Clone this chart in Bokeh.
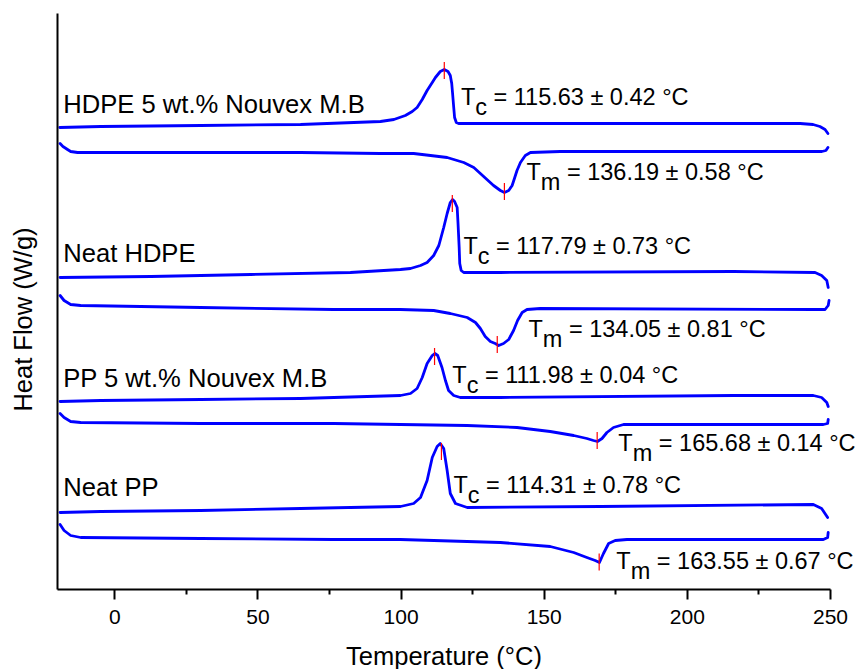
import math
from bokeh.plotting import figure
from bokeh.models import Label, Range1d, FixedTicker
from bokeh.embed import file_html
from bokeh.resources import INLINE

# ---------------- data (temperature in °C, heat flow in offset-stacked a.u.) ----------------
samples = ["HDPE 5 wt.% Nouvex M.B", "Neat HDPE", "PP 5 wt.% Nouvex M.B", "Neat PP"]

hdpe5_cool_T = [-19.2, -4.9, 30.0, 64.9, 92.8, 97.5, 101.5, 103.9, 105.6, 107.4, 109.1, 110.9, 112.0, 113.7,
                115.1, 116.4, 117.2, 117.7, 118.0, 118.4, 118.7, 119.3, 120.1, 123.1, 145.2, 169.6, 204.5,
                239.4, 243.9, 246.3, 248.1, 249.1]
hdpe5_cool_hf = [46.2, 46.3, 46.4, 46.5, 46.8, 47.0, 47.4, 47.8, 48.2, 49.0, 49.9, 50.7, 51.2, 51.8,
                 52.0, 51.8, 51.4, 50.6, 49.6, 48.2, 47.2, 46.7, 46.6, 46.6, 46.6, 46.6, 46.6,
                 46.6, 46.5, 46.3, 46.0, 45.6]

hdpe5_heat_T = [-19.1, -18.1, -16.5, -15.4, -13.0, -4.9, 30.0, 64.9, 92.8, 104.4, 110.3, 116.1, 121.9, 125.4,
                127.7, 130.0, 132.3, 134.7, 136.1, 137.6, 138.8, 139.6, 140.5, 141.7, 143.4, 145.2, 155.6,
                187.0, 221.9, 243.9, 247.0, 248.4, 249.1]
hdpe5_heat_hf = [44.6, 44.3, 44.0, 43.8, 43.7, 43.7, 43.7, 43.7, 43.6, 43.6, 43.4, 43.2, 42.7, 42.2,
                 41.6, 41.0, 40.4, 39.9, 39.7, 39.9, 40.4, 41.1, 41.9, 42.7, 43.4, 43.7, 43.8,
                 43.8, 43.8, 43.8, 43.8, 43.9, 44.2]

hdpe_cool_T = [-19.1, 12.6, 47.5, 82.3, 99.8, 103.3, 106.8, 109.1, 111.4, 113.2, 114.9, 116.1, 117.2, 118.0,
               118.7, 119.6, 119.9, 120.3, 120.5, 121.0, 121.9, 134.7, 216.1, 244.6, 246.9, 248.7, 249.2]
hdpe_cool_hf = [31.2, 31.3, 31.5, 31.7, 32.0, 32.1, 32.4, 32.7, 33.4, 34.4, 36.2, 37.6, 38.7, 39.0,
                38.8, 38.2, 36.6, 34.2, 32.6, 31.9, 31.7, 31.7, 31.8, 31.7, 31.4, 30.9, 30.2]

hdpe_heat_T = [-19.1, -17.7, -15.4, -11.9, 30.0, 76.4, 99.8, 111.4, 117.2, 123.1, 126.0, 127.7, 129.4, 131.2,
               132.9, 134.1, 135.8, 137.6, 139.3, 140.7, 142.3, 144.0, 148.6, 244.0, 248.1, 249.2, 249.5]
hdpe_heat_hf = [29.4, 28.9, 28.5, 28.4, 28.2, 28.0, 28.0, 27.9, 27.6, 27.2, 26.7, 26.1, 25.3, 24.8,
                24.6, 24.4, 24.6, 25.0, 25.9, 26.9, 27.7, 28.0, 28.1, 28.0, 28.0, 28.4, 28.9]

pp5_cool_T = [-19.1, -4.9, 30.0, 64.9, 99.8, 103.3, 105.6, 107.4, 109.1, 110.9, 111.8, 112.8, 114.3, 115.5,
              116.6, 118.4, 120.7, 134.7, 216.1, 244.0, 246.9, 248.7, 249.2]
pp5_cool_hf = [18.8, 18.9, 19.0, 19.1, 19.4, 19.6, 20.1, 21.2, 22.6, 23.4, 23.6, 23.4, 22.2, 20.9,
               19.9, 19.4, 19.2, 19.2, 19.4, 19.4, 19.2, 18.7, 18.3]

pp5_heat_T = [-19.1, -17.7, -15.4, -11.9, 30.0, 76.5, 99.8, 123.1, 140.5, 152.1, 160.3, 164.9, 167.2, 168.6,
              170.2, 171.9, 174.2, 177.7, 247.5, 249.0, 249.2]
pp5_heat_hf = [17.6, 17.2, 16.8, 16.7, 16.6, 16.6, 16.5, 16.4, 16.2, 15.8, 15.4, 15.1, 14.9, 14.8,
               15.1, 15.7, 16.2, 16.5, 16.5, 16.6, 17.0]

pp_cool_T = [-19.1, -4.9, 30.0, 64.9, 99.8, 104.4, 106.8, 109.1, 110.9, 112.6, 113.7, 114.9, 116.1, 117.2,
             119.0, 123.1, 169.6, 244.0, 246.9, 249.0]
pp_cool_hf = [7.7, 7.8, 7.9, 8.1, 8.3, 8.6, 9.2, 10.9, 13.2, 14.3, 14.6, 14.1, 11.9, 9.6,
              8.6, 8.2, 8.3, 8.5, 8.1, 7.2]

pp_heat_T = [-19.1, -17.7, -15.4, -11.9, 30.0, 76.5, 99.8, 134.7, 152.1, 160.3, 164.9, 167.8, 169.3, 170.7,
             172.5, 174.8, 178.9, 247.5, 249.0, 249.2]
pp_heat_hf = [6.5, 5.9, 5.4, 5.2, 5.1, 5.0, 5.0, 4.7, 4.3, 3.7, 3.2, 2.9, 2.7, 3.6,
              4.6, 4.9, 5.0, 5.0, 5.2, 5.7]

# peak markers (red ticks)
tc_peak_T = [115.1, 117.9, 111.7, 114.1]
tc_peak_hf = [51.9, 38.6, 23.3, 13.8]
tm_peak_T = [136.1, 133.6, 168.5, 169.2]
tm_peak_hf = [39.8, 24.5, 14.9, 2.75]

# reported temperatures
tc_mean = [115.63, 117.79, 111.98, 114.31]
tc_sd = [0.42, 0.73, 0.04, 0.78]
tm_mean = [136.19, 134.05, 165.68, 163.55]
tm_sd = [0.58, 0.81, 0.14, 0.67]

x_ticks = [0, 50, 100, 150, 200, 250]
x_minor_ticks = [25, 75, 125, 175, 225]
x_axis_span = (-20, 250)
y_axis_span = (0, 57.6)

# annotation anchors (layout)
sample_label_x = -18.0
sample_label_y = [48.6, 33.65, 21.2, 10.3]
tc_label_x = [120.9, 121.8, 117.9, 118.3]
tc_label_y = [49.3, 34.35, 21.5, 10.5]
tm_label_x = [143.8, 144.5, 175.9, 175.2]
tm_label_y = [41.75, 26.05, 14.65, 2.85]

# ---------------- figure ----------------
# frame covers the whole canvas; axes are pinned at the data origin of the chart
W, H = 855, 669
PX_L, PX_R, PX_T, PX_B = 57, 830, 13, 589          # pixel positions of the axis box
kx = (x_axis_span[1] - x_axis_span[0]) / (PX_R - PX_L)
ky = (y_axis_span[1] - y_axis_span[0]) / (PX_B - PX_T)
x_range = Range1d(x_axis_span[0] - PX_L * kx, x_axis_span[1] + (W - PX_R) * kx)
y_range = Range1d(y_axis_span[0] - (H - PX_B) * ky, y_axis_span[1] + PX_T * ky)

FONT = "Liberation Sans"
p = figure(width=W, height=H, x_range=x_range, y_range=y_range,
           output_backend="svg", toolbar_location=None,
           min_border_left=0, min_border_right=0, min_border_top=0, min_border_bottom=0)
p.xgrid.visible = False
p.ygrid.visible = False
p.outline_line_color = None
p.background_fill_color = "white"
p.border_fill_color = "white"

xa = p.xaxis[0]
xa.fixed_location = y_axis_span[0]
xa.bounds = x_axis_span
xa.ticker = FixedTicker(ticks=x_ticks, minor_ticks=x_minor_ticks)
xa.axis_line_width = 2
xa.axis_line_color = "black"
xa.major_tick_out = 10
xa.major_tick_in = 0
xa.minor_tick_out = 5
xa.minor_tick_in = 0
xa.major_tick_line_width = 2
xa.minor_tick_line_width = 2
xa.major_tick_line_color = "black"
xa.minor_tick_line_color = "black"
xa.major_label_text_font = FONT
xa.major_label_text_font_size = "21px"
xa.major_label_text_color = "black"
xa.major_label_standoff = 10

ya = p.yaxis[0]
ya.fixed_location = x_axis_span[0]
ya.bounds = y_axis_span
ya.ticker = FixedTicker(ticks=[], minor_ticks=[])
ya.axis_line_width = 2
ya.axis_line_color = "black"
ya.major_tick_out = 0
ya.minor_tick_out = 0
ya.major_tick_in = 0
ya.minor_tick_in = 0

BLUE = "#0000FF"
curves = [
    (hdpe5_cool_T, hdpe5_cool_hf), (hdpe5_heat_T, hdpe5_heat_hf),
    (hdpe_cool_T, hdpe_cool_hf), (hdpe_heat_T, hdpe_heat_hf),
    (pp5_cool_T, pp5_cool_hf), (pp5_heat_T, pp5_heat_hf),
    (pp_cool_T, pp_cool_hf), (pp_heat_T, pp_heat_hf),
]
for xs, ys in curves:
    p.line(xs, ys, line_color=BLUE, line_width=2.8, line_join="round", line_cap="round")

HALF = 0.85
pk_T = tc_peak_T + tm_peak_T
pk_hf = tc_peak_hf + tm_peak_hf
p.segment(x0=pk_T, y0=[h - HALF for h in pk_hf], x1=pk_T, y1=[h + HALF for h in pk_hf],
          line_color="#FF0000", line_width=1.2)

def add_label(x, y, text, size, x_offset=0, align="left", angle=0.0):
    p.add_layout(Label(x=x, y=y, text=text, x_offset=x_offset, text_font=FONT, text_font_size=size,
                       text_color="black", text_align=align, text_baseline="alphabetic", angle=angle))

for name, y in zip(samples, sample_label_y):
    add_label(sample_label_x, y, name, "25.6px")

TS = 23.5
T_ADV = 0.611 * TS
SPACE = 0.278 * TS
SUB_DROP = 1.0
for i in range(4):
    for sub, lx, ly, m, s in (("c", tc_label_x[i], tc_label_y[i], tc_mean[i], tc_sd[i]),
                               ("m", tm_label_x[i], tm_label_y[i], tm_mean[i], tm_sd[i])):
        sub_adv = (0.5 if sub == "c" else 0.833) * TS
        add_label(lx, ly, "T", f"{TS}px")
        add_label(lx, ly - SUB_DROP, sub, f"{TS}px", x_offset=T_ADV)
        add_label(lx, ly, f"= {m:.2f} \u00b1 {s:.2f} \u00b0C", f"{TS}px", x_offset=T_ADV + sub_adv + SPACE)

# axis titles
add_label(115.0, -6.65, "Temperature (\u00b0C)", "25.5px", align="center")
add_label(-31.9, 27.0, "Heat Flow (W/g)", "25.5px", align="center", angle=math.pi / 2)

open("out.html", "w").write(file_html(p, INLINE))
